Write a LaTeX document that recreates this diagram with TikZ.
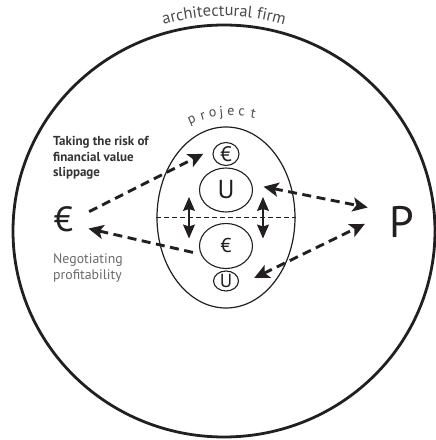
\documentclass[tikz,border=0pt]{standalone}
\usepackage{fontspec}
\setmainfont{PT Sans}
\usetikzlibrary{arrows.meta,decorations.text,shapes.geometric,calc}
\definecolor{ink}{HTML}{231F20}
\definecolor{labeldark}{HTML}{333333}
\definecolor{labelgray}{HTML}{6A6A6A}
\definecolor{titlegray}{HTML}{4A4A4A}
\tikzset{
  bighead/.tip={Stealth[length=15pt,width=14pt,inset=3.5pt]},
  vhead/.tip={Stealth[length=14pt,width=12pt,inset=2pt]},
  firmshape/.style={ellipse, draw=ink, line width=2.8pt, inner sep=0pt},
  projshape/.style={ellipse, draw=ink, line width=1.2pt, inner sep=0pt},
  unit/.style={ellipse, draw=ink, line width=1.1pt, inner sep=0pt, text=ink},
  bigsym/.style={circle, inner sep=0pt, text=ink},
  flowarrow/.style={draw=ink, line width=2.9pt, dash pattern=on 9pt off 5.5pt},
  swaparrow/.style={draw=ink, line width=1.3pt, {vhead}-{vhead}},
  splitline/.style={draw=ink, line width=0.9pt, dash pattern=on 5pt off 3pt},
  projletter/.style={anchor=base, inner sep=0pt, text=titlegray, font=\fontsize{14}{14}\selectfont},
  sidelabel/.style={anchor=north west, align=left, inner sep=0pt}
}
\begin{document}
\begin{tikzpicture}[x=1pt,y=1pt]
\useasboundingbox (0,0) rectangle (436,440);
% outer firm
\node[firmshape, minimum width=422pt, minimum height=412pt] (firm) at (224,209) {};
\path[decorate, decoration={text along path, text align=center,
  text={|\fontsize{16.5}{16.5}\selectfont\color{titlegray}|architectural firm}}]
  ($(firm.center)+(120:215)$) arc[start angle=120, end angle=60, radius=215];
% project
\node[projshape, minimum width=138pt, minimum height=181pt] (proj) at (226,222.5) {};
\foreach \l/\a in {p/112.2, r/105.8, o/100.4, j/95.7, e/90.6, c/84.8, t/78.5}
  \node[projletter, rotate=\a-90] at ($(proj.center)+(6,-1)+(\a:103)$) {\l};
\draw[splitline] (proj.west) -- (proj.east);
% units inside project
\node[unit, minimum width=26pt, minimum height=23pt, font=\fontsize{21}{21}\selectfont] (eurotop) at (226,286) {€};
\node[unit, minimum width=53pt, minimum height=44pt, font=\fontsize{26}{26}\selectfont] (Ubig) at (226,250) {U};
\node[unit, minimum width=53pt, minimum height=45pt, font=\fontsize{20}{20}\selectfont] (eurobig) at (226,194) {€};
\node[unit, minimum width=25pt, minimum height=20pt, font=\fontsize{19}{19}\selectfont] (Usmall) at (226,159) {U};
% outer symbols
\node[bigsym, minimum size=53pt, font=\fontsize{35}{35}\selectfont] (euroL) at (63.5,221) {€};
\node[bigsym, minimum size=74pt, font=\fontsize{44}{44}\selectfont] (P) at (402,218) {P};
% labels
\node[sidelabel, text=labeldark, font=\bfseries\fontsize{13}{15.7}\selectfont] (risk) at (53,304)
  {Taking the risk of\\financial value\\slippage};
\node[sidelabel, text=labelgray, font=\fontsize{13.8}{16.5}\selectfont] (nego) at (53,187)
  {Negotiating\\profitability};
% connectors
\draw[flowarrow, -{bighead}, shorten >=12pt] (euroL.16) -- (eurotop.155);
\draw[flowarrow, -{bighead}, shorten <=8pt] (eurobig.198) -- (euroL.-21);
\draw[flowarrow, {bighead}-{bighead}, shorten <=11.5pt] (Ubig.12) -- (P.157);
\draw[flowarrow, {bighead}-{bighead}, shorten <=18.8pt] (Usmall.-25) -- (P.183);
\draw[swaparrow] ([xshift=-37pt,yshift=-7pt]Ubig.center) -- ([xshift=-37pt,yshift=7.5pt]eurobig.center);
\draw[swaparrow] ([xshift=37pt,yshift=-7pt]Ubig.center) -- ([xshift=37pt,yshift=7.5pt]eurobig.center);
\end{tikzpicture}
\end{document}
